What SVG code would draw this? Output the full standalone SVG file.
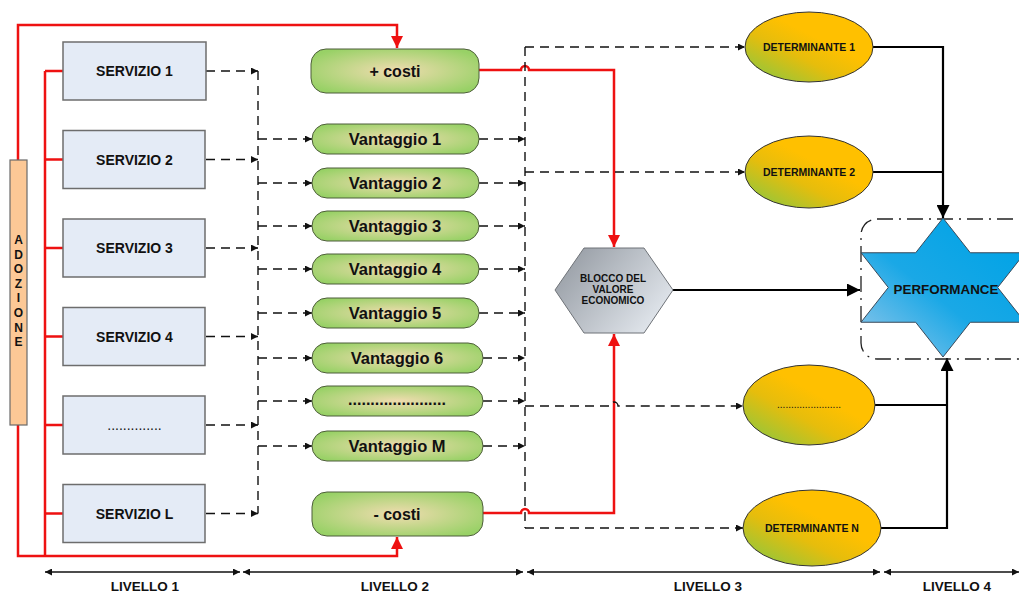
<svg xmlns="http://www.w3.org/2000/svg" width="1019" height="592" viewBox="0 0 1019 592">
<defs>
<style>
.t{font-family:"Liberation Sans",Arial,sans-serif;font-weight:bold;fill:#111;text-anchor:middle}
.serv{fill:#e4ebf6;stroke:#6d6d6d;stroke-width:1.5}
.van{fill:url(#gGreen);stroke:#4d5d3a;stroke-width:1}
.ell{fill:url(#gOrange);stroke:#333;stroke-width:1}
.red{fill:none;stroke:#ee1111;stroke-width:2.5}
.dash{fill:none;stroke:#111;stroke-width:1.4;stroke-dasharray:9,6}
.blk{fill:none;stroke:#000;stroke-width:2.2}
.dim{fill:none;stroke:#111;stroke-width:1.4}
</style>
<radialGradient id="gGreen" cx="0.5" cy="0.5" r="0.6">
<stop offset="0" stop-color="#f0dcb0"/>
<stop offset="1" stop-color="#98d166"/>
</radialGradient>
<linearGradient id="gOrange" x1="0.1" y1="0.95" x2="0.6" y2="0.4">
<stop offset="0" stop-color="#8fc73e"/>
<stop offset="0.6" stop-color="#e6bd0c"/>
<stop offset="1" stop-color="#ffc000"/>
</linearGradient>
<linearGradient id="gGrey" x1="0" y1="0" x2="1" y2="0.6">
<stop offset="0" stop-color="#8f959d"/>
<stop offset="1" stop-color="#dfe4ea"/>
</linearGradient>
<linearGradient id="gBlue" x1="0.9" y1="0.1" x2="0.1" y2="0.95">
<stop offset="0" stop-color="#00a3e6"/>
<stop offset="0.55" stop-color="#1aa8e6"/>
<stop offset="1" stop-color="#86c4ea"/>
</linearGradient>
<marker id="ab" viewBox="0 0 10 10" refX="10" refY="5" markerWidth="12" markerHeight="7" markerUnits="userSpaceOnUse" orient="auto-start-reverse"><path d="M0,0 L10,5 L0,10 z" fill="#111"/></marker>
<marker id="ar" viewBox="0 0 10 10" refX="10" refY="5" markerWidth="14" markerHeight="12" markerUnits="userSpaceOnUse" orient="auto"><path d="M0,0 L10,5 L0,10 z" fill="#ee1111"/></marker>
<marker id="ak" viewBox="0 0 10 10" refX="10" refY="5" markerWidth="15" markerHeight="13" markerUnits="userSpaceOnUse" orient="auto"><path d="M0,0 L10,5 L0,10 z" fill="#000"/></marker>
</defs>
<rect width="1019" height="592" fill="#fff"/>

<g id="connectors">
<path class="red" d="M18,160 V25 H397 V48" marker-end="url(#ar)"/>
<path class="red" d="M18,425 V556 H397 V537" marker-end="url(#ar)"/>
<path class="red" d="M45,71 V556 M45,71 H63 M45,159.5 H63 M45,248 H63 M45,336.5 H63 M45,425 H63 M45,513.5 H63"/>
<path class="red" d="M479,70 H521 a4,4 0 0 1 8,0 H614 V247" marker-end="url(#ar)"/>
<path class="red" d="M483,513 H521 a4,4 0 0 1 8,0 H614 V334" marker-end="url(#ar)"/>
<path class="dash" d="M206,71 H258" marker-end="url(#ab)"/>
<path class="dash" d="M206,159.5 H258" marker-end="url(#ab)"/>
<path class="dash" d="M206,248 H258" marker-end="url(#ab)"/>
<path class="dash" d="M206,336.5 H258" marker-end="url(#ab)"/>
<path class="dash" d="M206,425 H258" marker-end="url(#ab)"/>
<path class="dash" d="M206,513.5 H258" marker-end="url(#ab)"/>
<path class="dash" d="M258,71 V513.5"/>
<path class="dash" d="M258,139 H312" marker-end="url(#ab)"/>
<path class="dash" d="M258,183 H312" marker-end="url(#ab)"/>
<path class="dash" d="M258,226 H312" marker-end="url(#ab)"/>
<path class="dash" d="M258,269 H312" marker-end="url(#ab)"/>
<path class="dash" d="M258,313 H312" marker-end="url(#ab)"/>
<path class="dash" d="M258,358 H312" marker-end="url(#ab)"/>
<path class="dash" d="M258,401 H312" marker-end="url(#ab)"/>
<path class="dash" d="M258,446 H312" marker-end="url(#ab)"/>
<path class="dash" d="M479,139 H525" marker-end="url(#ab)"/>
<path class="dash" d="M479,183 H525" marker-end="url(#ab)"/>
<path class="dash" d="M479,226 H525" marker-end="url(#ab)"/>
<path class="dash" d="M479,269 H525" marker-end="url(#ab)"/>
<path class="dash" d="M479,313 H525" marker-end="url(#ab)"/>
<path class="dash" d="M483,358 H525" marker-end="url(#ab)"/>
<path class="dash" d="M483,401 H525" marker-end="url(#ab)"/>
<path class="dash" d="M483,446 H525" marker-end="url(#ab)"/>
<path class="dash" d="M525,47 V528"/>
<path class="dash" d="M525,47 H745" marker-end="url(#ab)"/>
<path class="dash" d="M525,172 H745" marker-end="url(#ab)"/>
<path class="dash" d="M525,406 H610 a4,4 0 0 1 8,0 H743" marker-end="url(#ab)"/>
<path class="dash" d="M525,528 H743" marker-end="url(#ab)"/>
<path class="blk" d="M673,290 H860" marker-end="url(#ak)"/>
<path class="blk" d="M873,47 H943 V218" marker-end="url(#ak)"/>
<path class="blk" d="M873,172 H943"/>
<path class="blk" d="M875,405 H947"/>
<path class="blk" d="M881,528 H947 V358" marker-end="url(#ak)"/>
<path class="dim" d="M45,572 H240" marker-start="url(#ab)" marker-end="url(#ab)"/>
<path class="dim" d="M243,572 H523" marker-start="url(#ab)" marker-end="url(#ab)"/>
<path class="dim" d="M527,572 H880" marker-start="url(#ab)" marker-end="url(#ab)"/>
<path class="dim" d="M884,572 H1019" marker-start="url(#ab)" marker-end="url(#ab)"/>
</g>

<g id="adozione">
<rect x="10" y="160" width="17" height="265" fill="#fcc896" stroke="#6a6a6a" stroke-width="1.2"/>
<text class="t" font-size="12" x="18.5" y="244">A</text>
<text class="t" font-size="12" x="18.5" y="258.6">D</text>
<text class="t" font-size="12" x="18.5" y="273.2">O</text>
<text class="t" font-size="12" x="18.5" y="287.8">Z</text>
<text class="t" font-size="12" x="18.5" y="302.4">I</text>
<text class="t" font-size="12" x="18.5" y="317">O</text>
<text class="t" font-size="12" x="18.5" y="331.6">N</text>
<text class="t" font-size="12" x="18.5" y="346.2">E</text>
</g>

<g id="servizio1"><rect class="serv" x="63" y="42" width="143" height="58"/><text class="t" font-size="14" x="134.5" y="76">SERVIZIO 1</text></g>
<g id="servizio2"><rect class="serv" x="63" y="130.5" width="142" height="58"/><text class="t" font-size="14" x="134.5" y="164.5">SERVIZIO 2</text></g>
<g id="servizio3"><rect class="serv" x="63" y="219" width="142" height="58"/><text class="t" font-size="14" x="134.5" y="253">SERVIZIO 3</text></g>
<g id="servizio4"><rect class="serv" x="63" y="307.5" width="142" height="58"/><text class="t" font-size="14" x="134.5" y="341.5">SERVIZIO 4</text></g>
<g id="servizio5"><rect class="serv" x="63" y="396" width="142" height="58"/><text class="t" font-size="14" x="134.5" y="430" style="font-weight:normal">..............</text></g>
<g id="servizioL"><rect class="serv" x="63" y="484.5" width="142" height="58"/><text class="t" font-size="14" x="134.5" y="518.5">SERVIZIO L</text></g>

<g id="piucosti"><rect class="van" x="311" y="49" width="168" height="44" rx="15"/><text class="t" font-size="16" x="395" y="76.5">+ costi</text></g>
<g id="vantaggio1"><rect class="van" x="312" y="124" width="167" height="30" rx="15"/><text class="t" font-size="16.5" x="395" y="145">Vantaggio 1</text></g>
<g id="vantaggio2"><rect class="van" x="312" y="168" width="167" height="30" rx="15"/><text class="t" font-size="16.5" x="395" y="189">Vantaggio 2</text></g>
<g id="vantaggio3"><rect class="van" x="312" y="211" width="167" height="30" rx="15"/><text class="t" font-size="16.5" x="395" y="232">Vantaggio 3</text></g>
<g id="vantaggio4"><rect class="van" x="312" y="254" width="167" height="30" rx="15"/><text class="t" font-size="16.5" x="395" y="275">Vantaggio 4</text></g>
<g id="vantaggio5"><rect class="van" x="312" y="298" width="167" height="30" rx="15"/><text class="t" font-size="16.5" x="395" y="319">Vantaggio 5</text></g>
<g id="vantaggio6"><rect class="van" x="312" y="343" width="171" height="30" rx="15"/><text class="t" font-size="16.5" x="397" y="364">Vantaggio 6</text></g>
<g id="vantaggioDots"><rect class="van" x="312" y="386" width="171" height="30" rx="15"/><text class="t" font-size="16" x="397" y="405">......................</text></g>
<g id="vantaggioM"><rect class="van" x="312" y="431" width="171" height="30" rx="15"/><text class="t" font-size="16.5" x="397" y="452">Vantaggio M</text></g>
<g id="menocosti"><rect class="van" x="312" y="492" width="171" height="44" rx="15"/><text class="t" font-size="16" x="397" y="519.5">- costi</text></g>

<g id="blocco">
<polygon points="584,248 644,248 673,290 644,333 584,333 555,290" fill="url(#gGrey)" stroke="#6f7378" stroke-width="1"/>
<text class="t" font-size="10" x="613" y="282">BLOCCO DEL</text>
<text class="t" font-size="10" x="613" y="293">VALORE</text>
<text class="t" font-size="10" x="613" y="304">ECONOMICO</text>
</g>

<g id="det1"><ellipse class="ell" cx="809" cy="47" rx="64" ry="35"/><text class="t" font-size="10.5" x="809" y="51">DETERMINANTE 1</text></g>
<g id="det2"><ellipse class="ell" cx="809" cy="172" rx="64" ry="36"/><text class="t" font-size="10.5" x="809" y="176">DETERMINANTE 2</text></g>
<g id="detDots"><ellipse class="ell" cx="809" cy="405" rx="66" ry="40"/><text class="t" font-size="10" style="font-weight:normal" x="809" y="408">.......................</text></g>
<g id="detN"><ellipse class="ell" cx="812" cy="528" rx="69" ry="38"/><text class="t" font-size="10.5" x="812" y="532">DETERMINANTE N</text></g>

<g id="performance">
<rect x="861" y="219" width="200" height="140" rx="16" fill="none" stroke="#222" stroke-width="1.3" stroke-dasharray="16,6,2,6"/>
<polygon points="943,218 970.3,252.75 1025,252.75 997.7,287.5 1025,322.25 970.3,322.25 943,357 915.7,322.25 861,322.25 888.3,287.5 861,252.75 915.7,252.75" fill="url(#gBlue)" stroke="#3b4a5a" stroke-width="1"/>
<text class="t" font-size="13.4" x="946" y="293.5">PERFORMANCE</text>
</g>

<g id="livelli">
<text class="t" font-size="13.5" x="145" y="591">LIVELLO 1</text>
<text class="t" font-size="13.5" x="395" y="591">LIVELLO 2</text>
<text class="t" font-size="13.5" x="708" y="591">LIVELLO 3</text>
<text class="t" font-size="13.5" x="957" y="591">LIVELLO 4</text>
</g>
</svg>
